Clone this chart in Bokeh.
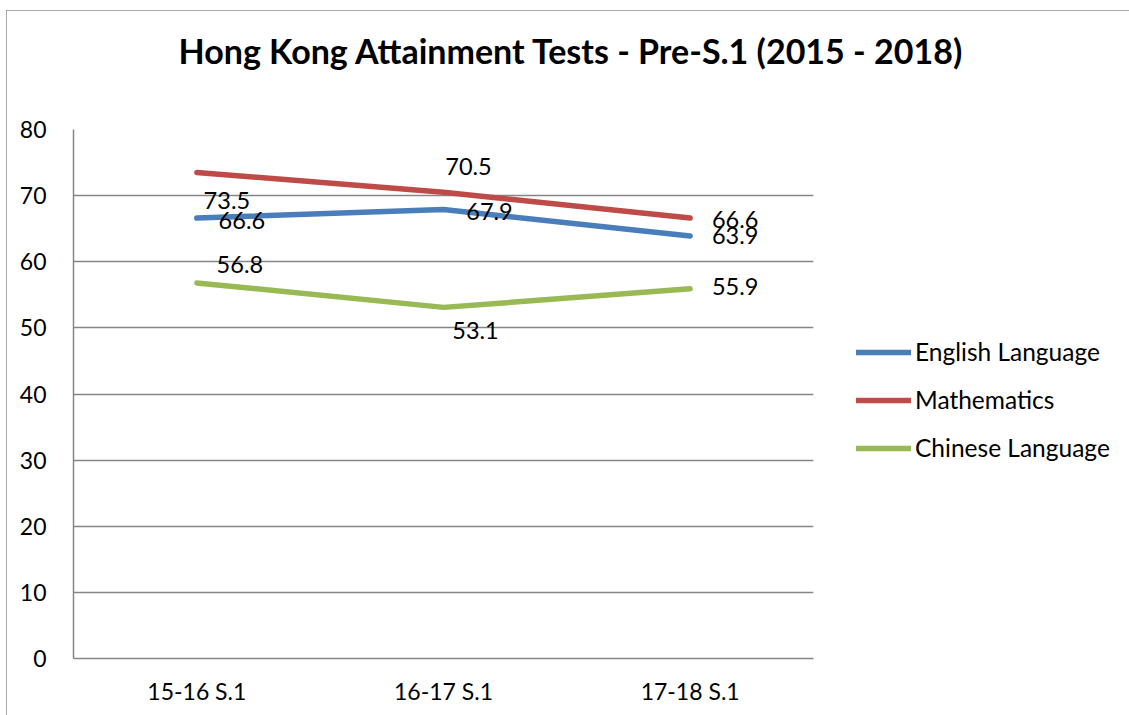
from bokeh.plotting import figure
from bokeh.models import ColumnDataSource, Legend, LegendItem, Range1d, FixedTicker, Title
from bokeh.embed import file_html
from bokeh.resources import INLINE
from bokeh.core.properties import value

categories = ["15-16 S.1", "16-17 S.1", "17-18 S.1"]
english = [66.6, 67.9, 63.9]
maths = [73.5, 70.5, 66.6]
chinese = [56.8, 53.1, 55.9]
series_names = ["English Language", "Mathematics", "Chinese Language"]
y_ticks = [0, 10, 20, 30, 40, 50, 60, 70, 80]
title_text = "Hong Kong Attainment Tests - Pre-S.1 (2015 - 2018)"

colors = ["#4A7EBB", "#BE4B48", "#98B954"]
# label pixel offsets (style only)
label_dx = [[45, 46, 45], [30, 25, 45], [43, 32, 45]]
label_dy = [[2, 2, 0], [28, -26, 1], [-18, 23, -2]]

FONT = "Lato"

p = figure(x_range=categories, y_range=Range1d(0, 80), frame_width=740, frame_height=529,
           output_backend="svg", toolbar_location=None,
           min_border_left=67, min_border_right=0, min_border_top=119, min_border_bottom=72)
p.margin = (10, 0, 0, 6)
p.styles = {"outline": "2px solid #8e8e8e", "outline-offset": "-2px"}
p.outline_line_color = None
p.background_fill_color = "white"
p.border_fill_color = "white"

# spacer (closest to frame), then the real title
p.add_layout(Title(text=" ", text_font_size="2px", standoff=55), "above")
p.add_layout(Title(text=title_text, align="left", offset=105,
                   text_font=FONT, text_font_size="34px", text_font_style="bold",
                   text_color="#000000", standoff=0), "above")

p.xgrid.grid_line_color = None
p.ygrid.grid_line_color = "#868686"
p.ygrid.grid_line_width = 1.5
p.yaxis.ticker = FixedTicker(ticks=y_ticks)

for ax in (p.xaxis, p.yaxis):
    ax.axis_line_color = "#868686"
    ax.axis_line_width = 1.5
    ax.major_tick_line_color = None
    ax.minor_tick_line_color = None
    ax.major_tick_out = 0
    ax.major_tick_in = 0
    ax.major_label_text_font = FONT
    ax.major_label_text_font_size = "23px"
    ax.major_label_text_color = "#000000"
p.yaxis.major_label_standoff = 27
p.xaxis.major_label_standoff = 18

items = []
for name, vals, col, dx, dy in zip(series_names, [english, maths, chinese], colors, label_dx, label_dy):
    src = ColumnDataSource(dict(x=categories, y=vals, lab=[f"{v:.1f}" for v in vals], dx=dx, dy=dy))
    r = p.line("x", "y", source=src, line_color=col, line_width=5.5, line_cap="round", line_join="round")
    p.text("x", "y", text="lab", source=src, x_offset="dx", y_offset="dy",
           text_font=value(FONT), text_font_size="23.5px", text_color="#000000",
           text_align="center", text_baseline="middle")
    items.append(LegendItem(label=name, renderers=[r]))

legend = Legend(items=items, location=(43, 196), orientation="vertical", ncols=1,
                margin=31, padding=0,
                glyph_width=55, glyph_height=24, label_standoff=4, spacing=19,
                label_text_font=FONT, label_text_font_size="24.5px", label_text_color="#000000",
                border_line_color=None, background_fill_alpha=0)
p.add_layout(legend, "right")

open("out.html", "w").write(file_html(p, INLINE))
